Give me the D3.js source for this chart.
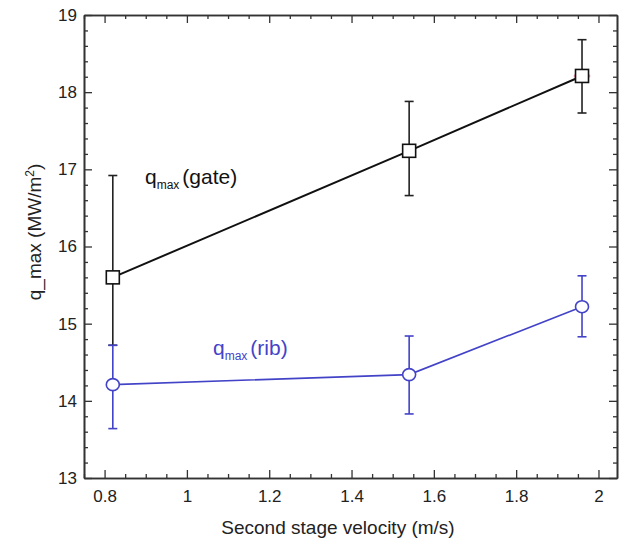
<!DOCTYPE html>
<html>
<head>
<meta charset="utf-8">
<script src="https://cdn.jsdelivr.net/npm/d3@7"></script>
<style>
  body { margin: 0; background: #fff; }
  svg { display: block; font-family: "Liberation Sans", Arial, sans-serif; }
</style>
</head>
<body>
<svg id="chart" width="627" height="541"></svg>
<script>
// ---- data ----
const velocity = [0.82, 1.54, 1.96];
const gateQ = [15.60, 17.24, 18.21];
const gateHi = [16.92, 17.88, 18.68];
const gateLo = [14.72, 16.66, 17.73];
const ribQ = [14.21, 14.34, 15.22];
const ribHi = [14.72, 14.84, 15.62];
const ribLo = [13.64, 13.83, 14.83];
const xTicks = [0.8, 1, 1.2, 1.4, 1.6, 1.8, 2];
const yTicks = [13, 14, 15, 16, 17, 18, 19];
const xMinor = [0.75,0.85,0.9,0.95,1.05,1.1,1.15,1.25,1.3,1.35,1.45,1.5,1.55,1.65,1.7,1.75,1.85,1.9,1.95];
const yMinor = [13.2,13.4,13.6,13.8,14.2,14.4,14.6,14.8,15.2,15.4,15.6,15.8,16.2,16.4,16.6,16.8,17.2,17.4,17.6,17.8,18.2,18.4,18.6,18.8];

const svg = d3.select("#chart");
const L = 84, R = 617, T = 15, B = 478;
const x = d3.scaleLinear().domain([0.75, 2.045]).range([L, R]);
const y = d3.scaleLinear().domain([13, 19]).range([B, T]);

const axisColor = "#333";
const blue = "#4343c8";

function styleAxis(g) {
  g.selectAll("path").attr("stroke", axisColor).attr("stroke-width", 1.6);
  g.selectAll("line").attr("stroke", axisColor).attr("stroke-width", 1.3);
  g.selectAll("text").attr("fill", "#222").style("font-size", "17px").style("font-family", '"Liberation Sans", Arial, sans-serif');
}

// bottom
svg.append("g").attr("transform", `translate(0,${B})`)
  .call(d3.axisBottom(x).tickValues(xTicks).tickFormat(d3.format("")).tickSize(-8).tickPadding(12).tickSizeOuter(0))
  .call(styleAxis);
svg.append("g").attr("transform", `translate(0,${B})`)
  .call(d3.axisBottom(x).tickValues(xMinor).tickFormat("").tickSize(-4).tickSizeOuter(0))
  .call(styleAxis);
// top
svg.append("g").attr("transform", `translate(0,${T})`)
  .call(d3.axisTop(x).tickValues(xTicks).tickFormat("").tickSize(-8).tickSizeOuter(0))
  .call(styleAxis);
svg.append("g").attr("transform", `translate(0,${T})`)
  .call(d3.axisTop(x).tickValues(xMinor).tickFormat("").tickSize(-4).tickSizeOuter(0))
  .call(styleAxis);
// left
svg.append("g").attr("transform", `translate(${L},0)`)
  .call(d3.axisLeft(y).tickValues(yTicks).tickFormat(d3.format("d")).tickSize(-8).tickPadding(7).tickSizeOuter(0))
  .call(styleAxis);
svg.append("g").attr("transform", `translate(${L},0)`)
  .call(d3.axisLeft(y).tickValues(yMinor).tickFormat("").tickSize(-4).tickSizeOuter(0))
  .call(styleAxis);
// right
svg.append("g").attr("transform", `translate(${R},0)`)
  .call(d3.axisRight(y).tickValues(yTicks).tickFormat("").tickSize(-8).tickSizeOuter(0))
  .call(styleAxis);
svg.append("g").attr("transform", `translate(${R},0)`)
  .call(d3.axisRight(y).tickValues(yMinor).tickFormat("").tickSize(-4).tickSizeOuter(0))
  .call(styleAxis);

// error bars
function errorBars(vals, hi, lo, color) {
  const g = svg.append("g").attr("stroke", color).attr("stroke-width", 1.6).attr("fill", "none");
  velocity.forEach((v, i) => {
    const cx = x(v);
    g.append("line").attr("x1", cx).attr("x2", cx).attr("y1", y(hi[i])).attr("y2", y(lo[i]));
    g.append("line").attr("x1", cx - 4.5).attr("x2", cx + 4.5).attr("y1", y(hi[i])).attr("y2", y(hi[i]));
    g.append("line").attr("x1", cx - 4.5).attr("x2", cx + 4.5).attr("y1", y(lo[i])).attr("y2", y(lo[i]));
  });
}
errorBars(gateQ, gateHi, gateLo, "#222");
errorBars(ribQ, ribHi, ribLo, blue);

const line = d3.line().x((d, i) => x(velocity[i])).y(d => y(d));
svg.append("path").datum(gateQ).attr("d", line).attr("fill", "none").attr("stroke", "#111").attr("stroke-width", 2);
svg.append("path").datum(ribQ).attr("d", line).attr("fill", "none").attr("stroke", blue).attr("stroke-width", 1.6);

// faint red mark behind last gate point
svg.append("ellipse").attr("cx", x(velocity[2])).attr("cy", y(gateQ[2]))
  .attr("rx", 8.5).attr("ry", 3.5).attr("fill", "#e87a9a").attr("opacity", 0.8);

// markers
svg.selectAll(".sq").data(gateQ).join("rect")
  .attr("x", (d, i) => x(velocity[i]) - 6.5).attr("y", d => y(d) - 6.5)
  .attr("width", 13).attr("height", 13)
  .attr("fill", "#fff").attr("stroke", "#111").attr("stroke-width", 1.6);
svg.selectAll(".ci").data(ribQ).join("ellipse")
  .attr("cx", (d, i) => x(velocity[i])).attr("cy", d => y(d))
  .attr("rx", 6.5).attr("ry", 6)
  .attr("fill", "#fff").attr("stroke", blue).attr("stroke-width", 1.6);

// series labels
function seriesLabel(px, py, suffix, color) {
  const t = svg.append("text").attr("x", px).attr("y", py).attr("fill", color).style("font-size", "21px");
  t.append("tspan").text("q");
  t.append("tspan").attr("dy", 5).style("font-size", "12px").text("max");
  t.append("tspan").attr("dy", -5).attr("dx", 3).text(suffix);
}
seriesLabel(145, 184, "(gate)", "#111");
seriesLabel(213, 355, "(rib)", blue);

// axis titles
svg.append("text").attr("x", 338).attr("y", 534).attr("text-anchor", "middle")
  .attr("fill", "#222").style("font-size", "19px").text("Second stage velocity (m/s)");
const yl = svg.append("text").attr("transform", "translate(41,232) rotate(-90)")
  .attr("text-anchor", "middle").attr("fill", "#222").style("font-size", "19px");
yl.append("tspan").text("q_max (MW/m");
yl.append("tspan").attr("dy", -7).style("font-size", "12px").text("2");
yl.append("tspan").attr("dy", 7).text(")");
</script>
</body>
</html>
